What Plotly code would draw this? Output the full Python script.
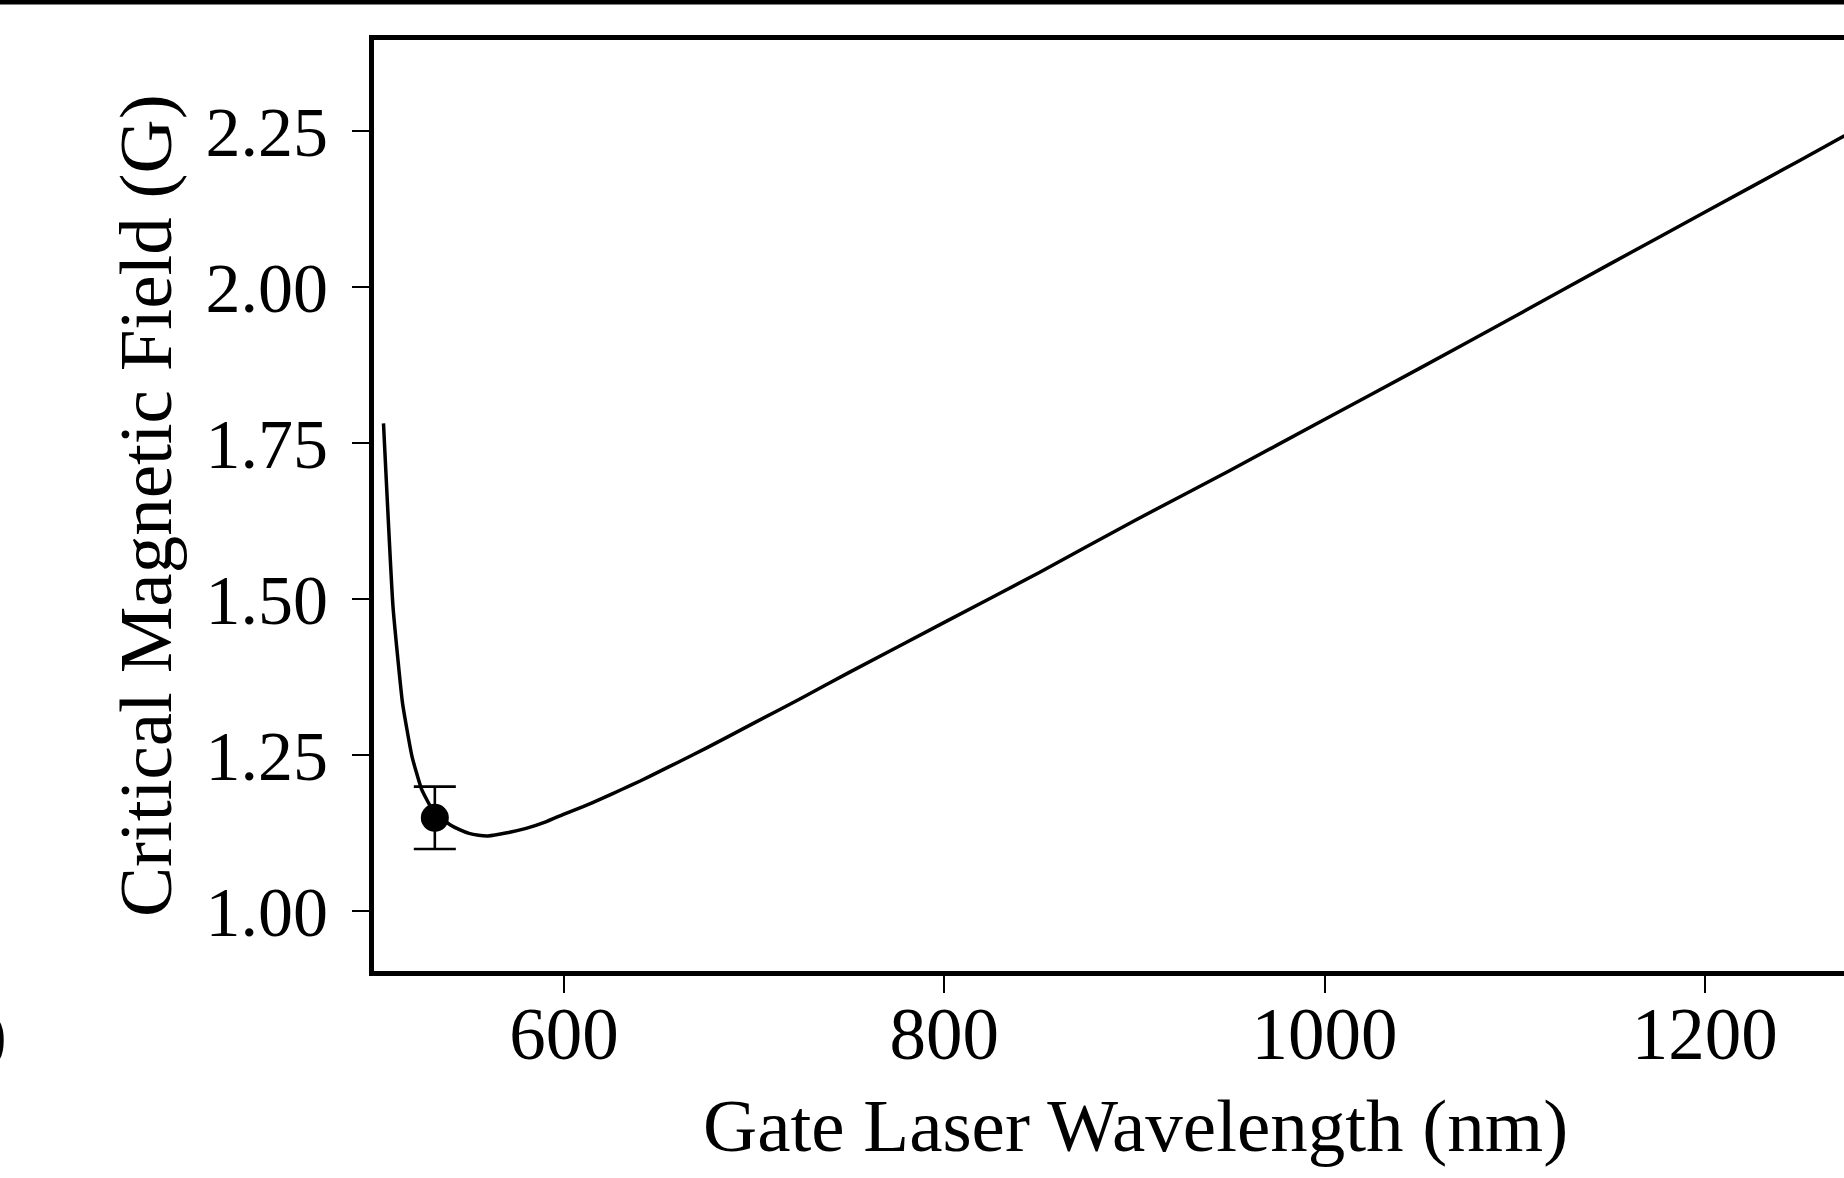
import plotly.graph_objects as go

# ---- data ----
wavelength_nm = [505, 510, 515, 520, 525, 530, 535, 540, 545, 550, 555, 560,
                 570, 580, 590, 600, 610, 620, 630, 640, 650, 660, 675, 700,
                 725, 750, 800, 850, 900, 950, 1000, 1050, 1100, 1150, 1200,
                 1250, 1300]
critical_field_G = [1.782, 1.488, 1.334, 1.248, 1.196, 1.167, 1.151, 1.139,
                    1.131, 1.125, 1.122, 1.121, 1.126, 1.133, 1.143, 1.156,
                    1.168, 1.181, 1.195, 1.209, 1.224, 1.239, 1.262, 1.302,
                    1.342, 1.383, 1.463, 1.543, 1.626, 1.706, 1.788, 1.870,
                    1.953, 2.037, 2.120, 2.203, 2.287]

measured_wavelength = [532]
measured_field = [1.15]
measured_error = [0.05]

x_ticks = [600, 800, 1000, 1200]
y_ticks = [1.00, 1.25, 1.50, 1.75, 2.00, 2.25]

x_title = "Gate Laser Wavelength (nm)"
y_title = "Critical Magnetic Field (G)"

FONT = "Liberation Serif, Times New Roman, serif"
FS_TICK_X = 73
FS_TICK_Y = 70
FS_TITLE = 75

W, H = 1844, 1178
L, R, T, B = 374, 0, 39.5, 206.5
PW, PH = W - L - R, H - T - B

def px_x(px):
    return (px - L) / PW

def px_y(py):
    return (H - B - py) / PH

fig = go.Figure()
fig.add_trace(go.Scatter(
    x=wavelength_nm, y=critical_field_G, mode="lines",
    line=dict(color="black", width=3.5, shape="spline", smoothing=0.4),
    hoverinfo="skip", showlegend=False))
fig.add_trace(go.Scatter(
    x=measured_wavelength, y=measured_field, mode="markers",
    marker=dict(color="black", size=28),
    error_y=dict(type="data", array=measured_error, visible=True,
                 color="black", thickness=2.6, width=21),
    hoverinfo="skip", showlegend=False))

fig.update_layout(
    width=W, height=H, autosize=False,
    margin=dict(l=L, r=R, t=T, b=B, pad=0),
    paper_bgcolor="white", plot_bgcolor="white",
    font=dict(family=FONT, size=FS_TICK_X, color="black"),
    showlegend=False,
)
fig.update_xaxes(
    range=[500, 500 + PW / 1.901], tickvals=x_ticks, ticktext=[str(v) for v in x_ticks],
    showgrid=False, zeroline=False,
    showline=True, linecolor="black", linewidth=5, mirror=True,
    ticks="outside", ticklen=17, tickwidth=2, tickcolor="black",
    tickfont=dict(family=FONT, size=FS_TICK_X, color="black"),
    ticklabelstandoff=-22,
)
fig.update_yaxes(
    range=[0.9046, 2.396], tickvals=y_ticks, ticktext=[f"{v:.2f}" for v in y_ticks],
    showgrid=False, zeroline=False,
    showline=True, linecolor="black", linewidth=5, mirror=False,
    ticks="outside", ticklen=17, tickwidth=2, tickcolor="black",
    tickfont=dict(family=FONT, size=FS_TICK_Y, color="black"),
    ticklabelstandoff=10,
)

# axis titles (placed as in the original, whose plot extends past the right edge)
fig.add_annotation(text=x_title, xref="paper", yref="paper",
                   x=px_x(1135), y=px_y(1126), xanchor="center", yanchor="middle",
                   showarrow=False, font=dict(family=FONT, size=FS_TITLE, color="black"))
fig.add_annotation(text=y_title, xref="paper", yref="paper", textangle=-90,
                   x=px_x(146), y=px_y(506), xanchor="center", yanchor="middle",
                   showarrow=False, font=dict(family=FONT, size=FS_TITLE, color="black"))
# partial tick label of neighbouring panel at the far left edge
fig.add_annotation(text="0", xref="paper", yref="paper",
                   x=px_x(-12), y=px_y(1041), xanchor="center", yanchor="middle",
                   showarrow=False, font=dict(family=FONT, size=FS_TICK_X, color="black"))
# black rule at the very top of the page
fig.add_shape(type="rect", xref="paper", yref="paper",
              x0=px_x(-10), x1=px_x(W + 10), y0=px_y(4), y1=px_y(-10),
              fillcolor="black", line=dict(width=0), layer="above")

fig.write_html("out.html")
